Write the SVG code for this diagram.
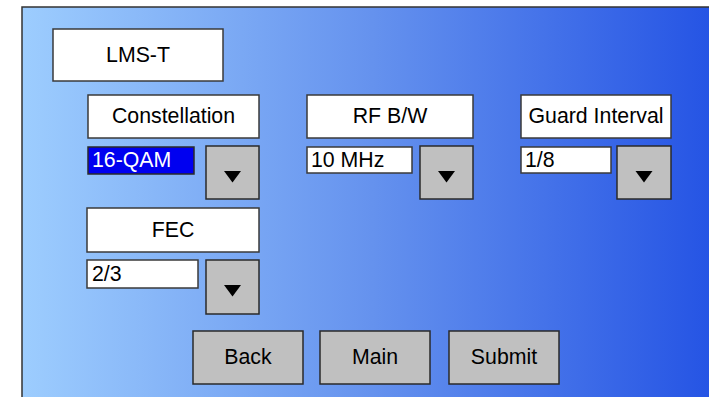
<svg xmlns="http://www.w3.org/2000/svg" width="709" height="397" viewBox="0 0 709 397">
<defs>
<linearGradient id="bg" x1="0" y1="0" x2="1" y2="0">
<stop offset="0" stop-color="#9DCDFE"/>
<stop offset="0.5" stop-color="#6592EE"/>
<stop offset="1" stop-color="#2352E4"/>
</linearGradient>
<polygon id="tri" points="0,0 17,0 8.5,11.5" fill="#000"/>
</defs>
<style>
.box{fill:#fff;stroke:#3a3a3a;stroke-width:1.5}
.btn{fill:#c0c0c0;stroke:#2a2a2a;stroke-width:1.5}
.sel{fill:#0000F0;stroke:#2a2a2a;stroke-width:1.5}
text{font-family:"Liberation Sans",Arial,sans-serif;font-size:21.3px;fill:#000}
.c{text-anchor:middle}
.w{fill:#fff}
</style>
<rect x="22" y="7" width="700" height="400" fill="url(#bg)" stroke="#333" stroke-width="1.5"/>
<g id="title"><rect class="box" x="53" y="29" width="170" height="52"/><text class="c" x="138" y="62">LMS-T</text></g>
<g id="constellation-label"><rect class="box" x="88" y="95" width="171" height="43"/><text class="c" x="173.5" y="123">Constellation</text></g>
<g id="constellation-field"><rect class="sel" x="88" y="147" width="106" height="27"/><text class="w" x="92" y="167">16-QAM</text></g>
<g id="constellation-drop"><rect class="btn" x="206" y="146" width="53" height="53"/><use href="#tri" x="224" y="171"/></g>
<g id="rfbw-label"><rect class="box" x="307" y="95" width="166" height="43"/><text class="c" x="390" y="123">RF B/W</text></g>
<g id="rfbw-field"><rect class="box" x="307" y="147" width="105" height="26"/><text x="311" y="167">10 MHz</text></g>
<g id="rfbw-drop"><rect class="btn" x="420" y="146" width="53" height="53"/><use href="#tri" x="438" y="171"/></g>
<g id="guard-label"><rect class="box" x="521" y="95" width="150" height="43"/><text class="c" x="596" y="123">Guard Interval</text></g>
<g id="guard-field"><rect class="box" x="521" y="147" width="90" height="26"/><text x="525" y="167">1/8</text></g>
<g id="guard-drop"><rect class="btn" x="617" y="146" width="54" height="53"/><use href="#tri" x="635.5" y="171"/></g>
<g id="fec-label"><rect class="box" x="87" y="208" width="172" height="44"/><text class="c" x="173" y="237">FEC</text></g>
<g id="fec-field"><rect class="box" x="87" y="260" width="111" height="28"/><text x="92" y="281">2/3</text></g>
<g id="fec-drop"><rect class="btn" x="206" y="260" width="53" height="54"/><use href="#tri" x="224" y="285"/></g>
<g id="back"><rect class="btn" x="193" y="331" width="110" height="53"/><text class="c" x="248" y="364">Back</text></g>
<g id="main"><rect class="btn" x="320" y="331" width="110" height="53"/><text class="c" x="375" y="364">Main</text></g>
<g id="submit"><rect class="btn" x="449" y="331" width="110" height="53"/><text class="c" x="504" y="364">Submit</text></g>
<g id="connectors"/>
</svg>
